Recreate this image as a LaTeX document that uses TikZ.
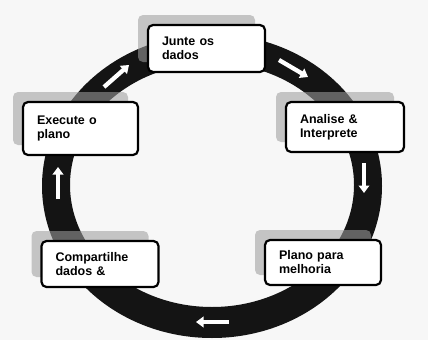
\documentclass[tikz,border=0pt]{standalone}
\usepackage{fontspec}
\setmainfont{Liberation Sans}
\usetikzlibrary{arrows.meta,shadows}
\begin{document}
\begin{tikzpicture}[x=1pt,y=-1pt,
  stagebox/.style={draw=black, line width=2.2pt, rounded corners=5pt, fill=white,
    align=left, inner xsep=14pt, inner ysep=0pt,
    font=\fontsize{12.5}{14}\selectfont\bfseries,
    general shadow={fill=black!38, opacity=0.57, shadow xshift=-10pt, shadow yshift=10pt}},
  ringarrow/.style={draw=white, line width=4.3pt, -{Triangle[width=10.5pt,length=7.5pt]}}]
\useasboundingbox (0,0) rectangle (428,340);
\fill[black!3] (0,0) rectangle (428,340);
% ring
\fill[black!92, even odd rule] (212,186) ellipse [x radius=170, y radius=152]
  (212,185) ellipse [x radius=142, y radius=122];
% arrow end points on the ring
\coordinate (a1s) at (104,87);  \coordinate (a1e) at (129,65);
\coordinate (a2s) at (279,60);  \coordinate (a2e) at (308,77);
\coordinate (a3s) at (364,163); \coordinate (a3e) at (364,193);
\coordinate (a4s) at (229,322); \coordinate (a4e) at (196,322);
\coordinate (a5s) at (58,199);  \coordinate (a5e) at (58,167);
\draw[ringarrow] (a1s) -- (a1e);
\draw[ringarrow] (a2s) -- (a2e);
\draw[ringarrow] (a3s) -- (a3e);
\draw[ringarrow] (a4s) -- (a4e);
\draw[ringarrow] (a5s) -- (a5e);
% boxes
\node[stagebox, text width=89pt, minimum height=47pt] (junte) at (206.5,48.5) {Junte os\\dados};
\node[stagebox, text width=87pt, minimum height=53pt] (exec) at (80.5,128.5) {Execute o\\plano};
\node[stagebox, text width=90pt, minimum height=50pt] (anal) at (345,127) {Analise \&\\Interprete};
\node[stagebox, text width=89pt, minimum height=46pt] (comp) at (100,264) {Compartilhe\\dados \&};
\node[stagebox, text width=88pt, minimum height=45pt] (plano) at (323,262.5) {Plano para\\melhoria};
\end{tikzpicture}
\end{document}
